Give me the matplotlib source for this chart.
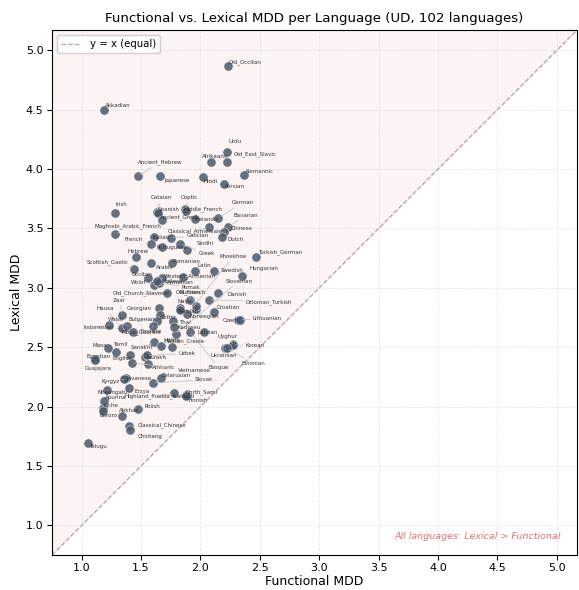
import matplotlib
matplotlib.use("Agg")
import matplotlib.pyplot as plt
import numpy as np

# functional / lexical MDD per language
languages = [
    "Old_Occitan", "Akkadian", "Urdu", "Afrikaans", "Old_East_Slavic", "Ancient_Hebrew",
    "Japanese", "Hindi", "Alemannic", "Persian", "Irish", "Catalan", "Spanish", "Coptic",
    "Middle_French", "German", "Ancient_Greek", "Icelandic", "Bavarian",
    "Maghrebi_Arabic_French", "Classical_Armenian", "Chinese", "Italian", "Galician",
    "Dutch", "French", "Portuguese", "Sindhi", "Greek", "Hebrew", "Turkish_German",
    "Khoekhoe", "Swedish", "Scottish_Gaelic", "Romanian", "Arabic", "Latin", "Hungarian",
    "Slovenian", "Occitan", "Western_Armenian", "Maltese", "Wolof", "Old_Church_Slavonic",
    "Danish", "Ottoman_Turkish", "Old_French", "Pomak", "Armenian", "Naija", "Serbian",
    "Norwegian", "Russian", "Zaar", "Hausa", "Georgian", "Gothic", "Croatian", "Czech",
    "Lithuanian", "Welsh", "Bulgarian", "Thai", "Indonesian", "Mbya_Guarani", "Kadiweu",
    "Latvian", "Basque", "Faroese", "Uyghur", "Korean", "Ukrainian", "Estonian", "Manx",
    "Tamil", "Sanskrit", "Hittite", "Haitian_Creole", "Egyptian", "Guajajara", "English",
    "Kazakh", "Uzbek", "Amharic", "Vietnamese", "Belarusian", "Slovak", "Javanese",
    "Kyrgyz", "Erzya", "Nheengatu", "Highland_Puebla_Nahuatl", "North_Sami", "Finnish",
    "Kiche", "Bororo", "Abkhaz", "Polish", "Classical_Chinese", "Chintang", "Telugu",
    "Apurina",
]
functional = [
    2.23, 1.19, 2.22, 2.09, 2.22, 1.47, 1.66, 2.02, 2.37, 2.20, 1.28, 1.63, 1.64, 1.87,
    1.88, 2.15, 1.68, 1.95, 2.23, 1.28, 2.07, 2.20, 1.61, 1.75, 2.18, 1.58, 1.68, 1.89,
    1.83, 1.46, 2.47, 1.89, 2.11, 1.44, 1.76, 1.58, 1.95, 2.35, 1.79, 1.56, 1.85, 1.68,
    1.61, 1.72, 2.15, 2.07, 1.91, 1.65, 1.63, 1.83, 1.83, 1.96, 1.96, 1.34, 1.34, 1.65,
    1.66, 2.11, 2.32, 2.33, 1.38, 1.63, 1.77, 1.23, 1.43, 1.78, 2.03, 1.91, 1.60, 2.27,
    2.27, 2.21, 2.22, 1.22, 1.29, 1.61, 1.67, 1.76, 1.11, 1.11, 1.41, 1.53, 1.55, 1.56,
    1.42, 1.67, 1.60, 1.37, 1.36, 1.40, 1.21, 1.78, 1.88, 1.88, 1.18, 1.18, 1.34, 1.47,
    1.40, 1.41, 1.05, 1.19,
]
lexical = [
    4.87, 4.50, 4.14, 4.06, 4.06, 3.94, 3.94, 3.93, 3.95, 3.87, 3.63, 3.64, 3.63, 3.66,
    3.65, 3.59, 3.57, 3.58, 3.51, 3.45, 3.51, 3.47, 3.43, 3.42, 3.43, 3.37, 3.34, 3.32,
    3.37, 3.26, 3.26, 2.78, 3.14, 3.16, 3.21, 3.21, 3.14, 3.10, 2.61, 3.08, 3.09, 3.08,
    3.02, 2.96, 2.96, 2.90, 2.90, 3.04, 3.06, 2.83, 2.81, 2.82, 2.85, 2.77, 2.66, 2.83,
    2.77, 2.80, 2.73, 2.73, 2.68, 2.72, 2.72, 2.69, 2.63, 2.67, 2.63, 2.63, 2.68, 2.53,
    2.52, 2.49, 2.49, 2.49, 2.46, 2.54, 2.51, 2.50, 2.40, 2.39, 2.43, 2.42, 2.43, 2.36,
    2.37, 2.24, 2.20, 2.24, 2.23, 2.16, 2.14, 2.11, 2.10, 2.09, 1.99, 1.96, 1.92, 1.98,
    1.84, 1.80, 1.69, 2.05,
]

# label offsets in pixels (dx right, dy down) where the label was pushed away
label_offsets = {
    "Urdu": (2, -11), "Afrikaans": (-9, -5), "Old_East_Slavic": (7, -8),
    "Ancient_Hebrew": (0, -14), "Japanese": (4, 4), "Hindi": (1, 4), "Alemannic": (1, -3),
    "Persian": (0, 2), "Irish": (1, -8), "Catalan": (-6, -14), "Spanish": (0, -3),
    "Coptic": (-4, -12), "Middle_French": (-3, -1), "German": (13, -15),
    "Ancient_Greek": (-3, -3), "Icelandic": (0, 1), "Bavarian": (6, -12),
    "Maghrebi_Arabic_French": (-20, -8), "Classical_Armenian": (-41, 4), "Chinese": (7, -3),
    "Italian": (-2, 1), "Galician": (16, -2), "Dutch": (6, 3), "French": (-26, -4),
    "Portuguese": (-6, 0), "Sindhi": (9, -6), "Greek": (18, 10), "Hebrew": (-9, -5),
    "Turkish_German": (2, -5), "Khoekhoe": (32, -57), "Swedish": (7, -1),
    "Scottish_Gaelic": (-47, -7), "Romanian": (1, -1), "Arabic": (5, 5), "Latin": (3, -6),
    "Hungarian": (7, -7), "Slovenian": (50, -53), "Occitan": (-16, -4),
    "Western_Armenian": (-19, -1), "Maltese": (-1, 3), "Wolof": (-23, -3),
    "Old_Church_Slavonic": (-54, 1), "Danish": (9, 2), "Ottoman_Turkish": (37, 2),
    "Old_French": (-14, -8), "Pomak": (23, 4), "Armenian": (10, 2), "Naija": (-3, -6),
    "Serbian": (-3, 1), "Norwegian": (-6, 7), "Russian": (-16, -13), "Zaar": (-9, -15),
    "Hausa": (-26, -20), "Georgian": (-32, 1), "Gothic": (0, 2), "Croatian": (3, -4),
    "Czech": (-16, 1), "Lithuanian": (13, -1), "Welsh": (-19, -6), "Bulgarian": (-28, -2),
    "Thai": (6, 1), "Indonesian": (-26, 3), "Mbya_Guarani": (-11, 0), "Kadiweu": (3, 1),
    "Latvian": (-7, 1), "Basque": (19, 36), "Faroese": (-12, 6), "Uyghur": (-15, -7),
    "Korean": (13, 1), "Ukrainian": (-15, 7), "Estonian": (15, 15), "Manx": (-15, -3),
    "Tamil": (-3, -7), "Sanskrit": (-24, 5), "Hittite": (2, -5), "Haitian_Creole": (-7, -6),
    "Egyptian": (-8, -3), "Guajajara": (-10, 8), "English": (-18, 3), "Kazakh": (2, 1),
    "Uzbek": (31, -2), "Amharic": (4, 4), "Vietnamese": (46, 8), "Belarusian": (0, -3),
    "Slovak": (42, -3), "Javanese": (1, 0), "Kyrgyz": (-23, 2), "Erzya": (5, 4),
    "Nheengatu": (-9, 3), "Highland_Puebla_Nahuatl": (-50, 3), "North_Sami": (-1, -3),
    "Finnish": (2, 5), "Kiche": (0, -2), "Bororo": (-4, 4), "Abkhaz": (-3, -6),
    "Polish": (7, -2), "Classical_Chinese": (9, 0), "Chintang": (7, 6), "Telugu": (1, 3),
    "Apurina": (1, -3),
}

fig, ax = plt.subplots(figsize=(5.79, 5.90), dpi=100)
fig.subplots_adjust(left=0.0898, right=0.9965, top=0.949, bottom=0.0593)

lo = min(min(functional), min(lexical)) - 0.3
hi = max(max(functional), max(lexical)) + 0.3

# region where lexical > functional
ax.fill_between([lo, hi], [lo, hi], hi, color="#fbeeee", alpha=0.7, zorder=0)
ax.plot([lo, hi], [lo, hi], ls="--", color="#b8a4a4", lw=0.9, label="y = x (equal)", zorder=1)

ax.scatter(functional, lexical, s=44, color="#4b586a", alpha=0.85,
           edgecolors="white", linewidths=0.4, zorder=3)

for name, fx, ly in zip(languages, functional, lexical):
    dx, dy = label_offsets.get(name, (1, -4))
    far = (dx * dx + dy * dy) ** 0.5 > 12
    ax.annotate(name, (fx, ly), xytext=(dx, -dy), textcoords="offset pixels",
                fontsize=4, color="#333333", ha="left", va="center", zorder=4,
                arrowprops=dict(arrowstyle="-", color="#bbbbbb", lw=0.5,
                                shrinkA=0, shrinkB=2) if far else None)

ax.set_xlim(lo, hi)
ax.set_ylim(lo, hi)
ax.grid(True, ls="--", color="#dddddd", lw=0.6, alpha=0.7)
ax.set_axisbelow(True)

ax.set_xlabel("Functional MDD", fontsize=9, labelpad=1)
ax.set_ylabel("Lexical MDD", fontsize=9, labelpad=2)
ax.set_title("Functional vs. Lexical MDD per Language (UD, 102 languages)", fontsize=9.6)
ax.tick_params(labelsize=8, pad=2.5)

ax.legend(loc="upper left", fontsize=7.3, framealpha=0.9)
ax.text(0.97, 0.036, "All languages: Lexical > Functional", transform=ax.transAxes,
        ha="right", va="center", fontsize=6.8, style="italic", color="#e07070")

fig.savefig("out.png", dpi=100)
